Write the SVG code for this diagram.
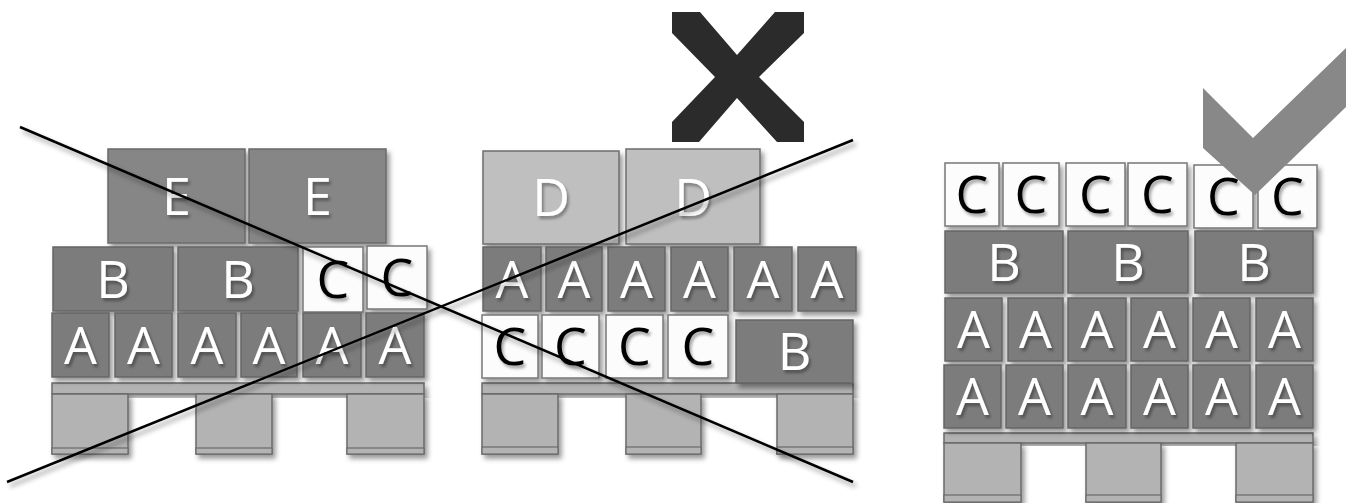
<svg xmlns="http://www.w3.org/2000/svg" width="1352" height="503" viewBox="0 0 1352 503">
<defs>
<filter id="sh" x="-20%" y="-20%" width="150%" height="150%">
<feDropShadow dx="3" dy="4" stdDeviation="2.5" flood-color="#000" flood-opacity="0.4"/>
</filter>
<filter id="tsh" x="-20%" y="-20%" width="150%" height="150%">
<feDropShadow dx="2" dy="3" stdDeviation="1.5" flood-color="#000" flood-opacity="0.35"/>
</filter>
</defs>
<style>
.dk{fill:#7c7c7c;stroke:#666;stroke-width:1.5;filter:url(#sh)}
.e{fill:#868686;stroke:#6a6a6a;stroke-width:1.5;filter:url(#sh)}
.d{fill:#bfbfbf;stroke:#6e6e6e;stroke-width:1.5;filter:url(#sh)}
.c{fill:#fcfcfc;stroke:#777;stroke-width:1.5;filter:url(#sh)}
.p{fill:#b3b3b3;stroke:#6a6a6a;stroke-width:1.5;filter:url(#sh)}
.ps{fill:#b3b3b3;stroke:#6a6a6a;stroke-width:1.2}
.t{font-family:"Open Sans","Liberation Sans",sans-serif;font-size:52px;text-anchor:middle;filter:url(#tsh)}
.w{fill:#fff}
.k{fill:#000}
.ln{stroke:#000;stroke-width:2.5;fill:none;filter:url(#sh)}
</style>

<g id="pallet-left">
<rect class="p" x="52" y="383" width="372" height="11"/>
<rect class="p" x="52" y="394" width="76" height="60"/><rect class="ps" x="52" y="448" width="76" height="6"/>
<rect class="p" x="196" y="394" width="76" height="60"/><rect class="ps" x="196" y="448" width="76" height="6"/>
<rect class="p" x="347" y="394" width="77" height="60"/><rect class="ps" x="347" y="448" width="77" height="6"/>
</g>
<g id="boxes-left">
<g id="L-E1"><rect class="e" x="108" y="149" width="137" height="94"/><text class="t w" x="176.5" y="215">E</text></g>
<g id="L-E2"><rect class="e" x="249" y="149" width="137" height="94"/><text class="t w" x="317.5" y="215">E</text></g>
<g id="L-B1"><rect class="dk" x="53" y="247" width="120" height="64"/><text class="t w" x="113" y="298">B</text></g>
<g id="L-B2"><rect class="dk" x="178" y="247" width="120" height="64"/><text class="t w" x="238" y="298">B</text></g>
<g id="L-C1"><rect class="c" x="303" y="247" width="60" height="65"/><text class="t k" x="333" y="298">C</text></g>
<g id="L-C2"><rect class="c" x="367" y="246" width="60" height="63"/><text class="t k" x="397" y="296">C</text></g>
<g id="L-A1"><rect class="dk" x="52" y="313" width="57" height="64"/><text class="t w" x="80.5" y="364">A</text></g>
<g id="L-A2"><rect class="dk" x="115" y="313" width="57" height="64"/><text class="t w" x="143.5" y="364">A</text></g>
<g id="L-A3"><rect class="dk" x="178" y="313" width="58" height="64"/><text class="t w" x="207" y="364">A</text></g>
<g id="L-A4"><rect class="dk" x="241" y="313" width="56" height="64"/><text class="t w" x="269" y="364">A</text></g>
<g id="L-A5"><rect class="dk" x="303" y="313" width="58" height="64"/><text class="t w" x="332" y="364">A</text></g>
<g id="L-A6"><rect class="dk" x="366" y="313" width="58" height="64"/><text class="t w" x="395" y="364">A</text></g>
</g>

<g id="pallet-middle">
<rect class="p" x="482" y="383" width="371" height="11"/>
<rect class="p" x="482" y="394" width="76" height="60"/><rect class="ps" x="482" y="447" width="76" height="7"/>
<rect class="p" x="626" y="394" width="75" height="60"/><rect class="ps" x="626" y="447" width="75" height="7"/>
<rect class="p" x="777" y="394" width="76" height="60"/><rect class="ps" x="777" y="447" width="76" height="7"/>
</g>
<g id="boxes-middle">
<g id="M-D1"><rect class="d" x="483" y="151" width="136" height="93"/><text class="t w" x="551" y="216">D</text></g>
<g id="M-D2"><rect class="d" x="626" y="149" width="134" height="95"/><text class="t w" x="693" y="216">D</text></g>
<g id="M-A1"><rect class="dk" x="483" y="247" width="58" height="64"/><text class="t w" x="512" y="298">A</text></g>
<g id="M-A2"><rect class="dk" x="546" y="247" width="56" height="64"/><text class="t w" x="574" y="298">A</text></g>
<g id="M-A3"><rect class="dk" x="608" y="247" width="57" height="64"/><text class="t w" x="636.5" y="298">A</text></g>
<g id="M-A4"><rect class="dk" x="671" y="247" width="57" height="64"/><text class="t w" x="699.5" y="298">A</text></g>
<g id="M-A5"><rect class="dk" x="734" y="247" width="58" height="64"/><text class="t w" x="763" y="298">A</text></g>
<g id="M-A6"><rect class="dk" x="798" y="247" width="58" height="64"/><text class="t w" x="827" y="298">A</text></g>
<g id="M-C1"><rect class="c" x="482" y="315" width="56" height="63"/><text class="t k" x="510" y="365">C</text></g>
<g id="M-C2"><rect class="c" x="542" y="315" width="57" height="63"/><text class="t k" x="570.5" y="365">C</text></g>
<g id="M-C3"><rect class="c" x="606" y="315" width="57" height="63"/><text class="t k" x="634.5" y="365">C</text></g>
<g id="M-C4"><rect class="c" x="668" y="315" width="60" height="63"/><text class="t k" x="698" y="365">C</text></g>
<g id="M-B1"><rect class="dk" x="736" y="320" width="117" height="63"/><text class="t w" x="794.5" y="370">B</text></g>
</g>

<g id="pallet-right">
<rect class="p" x="944" y="433" width="369" height="10"/>
<rect class="p" x="944" y="443" width="77" height="59"/><rect class="ps" x="944" y="495" width="77" height="7"/>
<rect class="p" x="1086" y="443" width="75" height="59"/><rect class="ps" x="1086" y="495" width="75" height="7"/>
<rect class="p" x="1236" y="443" width="77" height="59"/><rect class="ps" x="1236" y="495" width="77" height="7"/>
</g>
<g id="boxes-right">
<g id="R-C1"><rect class="c" x="945" y="163" width="54" height="63"/><text class="t k" x="972" y="213">C</text></g>
<g id="R-C2"><rect class="c" x="1003" y="163" width="56" height="63"/><text class="t k" x="1031" y="213">C</text></g>
<g id="R-C3"><rect class="c" x="1066" y="163" width="59" height="63"/><text class="t k" x="1095.5" y="213">C</text></g>
<g id="R-C4"><rect class="c" x="1128" y="163" width="59" height="63"/><text class="t k" x="1157.5" y="213">C</text></g>
<g id="R-C5"><rect class="c" x="1194" y="165" width="59" height="63"/><text class="t k" x="1223.5" y="215">C</text></g>
<g id="R-C6"><rect class="c" x="1258" y="165" width="59" height="63"/><text class="t k" x="1287.5" y="215">C</text></g>
<g id="R-B1"><rect class="dk" x="945" y="231" width="118" height="62"/><text class="t w" x="1004" y="281">B</text></g>
<g id="R-B2"><rect class="dk" x="1068" y="231" width="120" height="62"/><text class="t w" x="1128" y="281">B</text></g>
<g id="R-B3"><rect class="dk" x="1195" y="231" width="118" height="62"/><text class="t w" x="1254" y="281">B</text></g>
<g id="R-A1"><rect class="dk" x="945" y="298" width="57" height="63"/><text class="t w" x="973.5" y="348">A</text></g>
<g id="R-A2"><rect class="dk" x="1008" y="298" width="55" height="63"/><text class="t w" x="1035.5" y="348">A</text></g>
<g id="R-A3"><rect class="dk" x="1068" y="298" width="58" height="63"/><text class="t w" x="1097" y="348">A</text></g>
<g id="R-A4"><rect class="dk" x="1131" y="298" width="57" height="63"/><text class="t w" x="1159.5" y="348">A</text></g>
<g id="R-A5"><rect class="dk" x="1193" y="298" width="57" height="63"/><text class="t w" x="1221.5" y="348">A</text></g>
<g id="R-A6"><rect class="dk" x="1256" y="298" width="57" height="63"/><text class="t w" x="1284.5" y="348">A</text></g>
<g id="R-A7"><rect class="dk" x="944" y="365" width="57" height="63"/><text class="t w" x="972.5" y="415">A</text></g>
<g id="R-A8"><rect class="dk" x="1006" y="365" width="57" height="63"/><text class="t w" x="1034.5" y="415">A</text></g>
<g id="R-A9"><rect class="dk" x="1068" y="365" width="58" height="63"/><text class="t w" x="1097" y="415">A</text></g>
<g id="R-A10"><rect class="dk" x="1131" y="365" width="57" height="63"/><text class="t w" x="1159.5" y="415">A</text></g>
<g id="R-A11"><rect class="dk" x="1193" y="365" width="57" height="63"/><text class="t w" x="1221.5" y="415">A</text></g>
<g id="R-A12"><rect class="dk" x="1256" y="365" width="57" height="63"/><text class="t w" x="1284.5" y="415">A</text></g>
</g>

<g id="connectors">
<line class="ln" x1="20" y1="127" x2="853" y2="482"/>
<line class="ln" x1="7" y1="482" x2="853" y2="140"/>
</g>

<g id="x-mark">
<polygon fill="#2b2b2b" points="672,12 700,12 737,55 775,12 804,12 804,33 759,77 804,122 804,142 777,142 737,98 699,142 672,142 672,122 715,77 672,33"/>
</g>
<g id="check-mark">
<polygon fill="#888" points="1203,88 1253,138 1346,48 1346,107 1255,195 1203,148"/>
</g>
</svg>
